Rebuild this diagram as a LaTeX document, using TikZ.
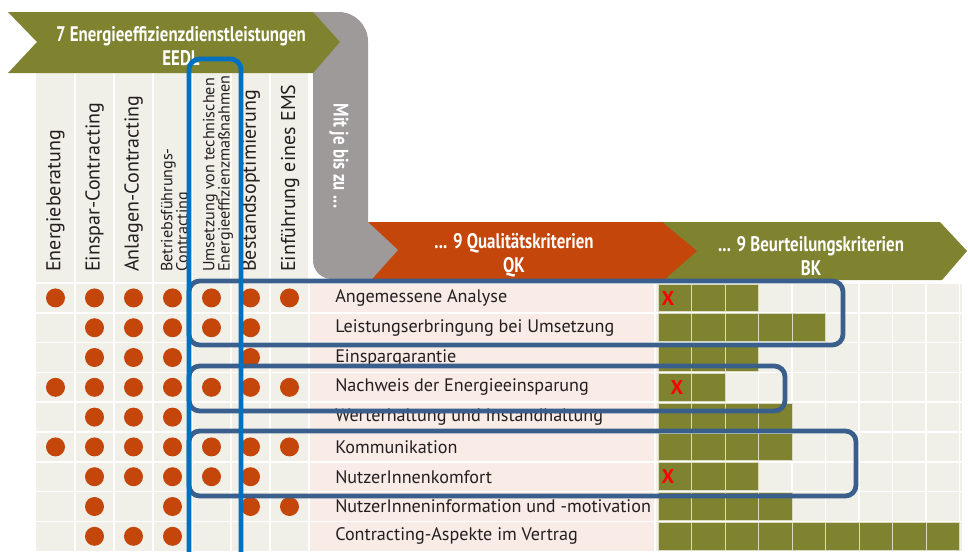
\documentclass[tikz,border=0pt]{standalone}
\usepackage{fontspec}
\setmainfont{PT Sans}
\newfontfamily\headfont[FakeStretch=0.8]{PT Sans}
\usetikzlibrary{positioning}

\definecolor{olivebar}{RGB}{127,131,48}
\definecolor{rust}{RGB}{196,70,10}
\definecolor{greyband}{RGB}{158,154,154}
\definecolor{colbg}{RGB}{240,240,232}
\definecolor{critbg}{RGB}{249,235,230}
\definecolor{framebright}{RGB}{0,112,192}
\definecolor{framedark}{RGB}{58,95,140}
\definecolor{inktext}{RGB}{35,31,32}

\begin{document}
\begin{tikzpicture}[x=0.75pt,y=-0.75pt,line cap=round,
    colhead/.style={rotate=90,anchor=west,inner sep=0pt,text=inktext,font=\fontsize{15}{15}\selectfont},
    colheadsmall/.style={rotate=90,anchor=west,inner sep=0pt,align=left,text=inktext,font=\fontsize{12.1}{11.6}\selectfont},
    crit/.style={anchor=west,inner sep=0pt,text=inktext,font=\fontsize{13.6}{14}\selectfont},
    bandtext/.style={text=white,align=center,font=\headfont\bfseries\fontsize{15.8}{17.5}\selectfont},
    cell/.style={fill=olivebar,draw=white!70!olivebar,line width=0.6pt},
    hl/.style={draw=framedark,line width=3.6pt,rounded corners=8pt},
    cross/.style={text=red,inner sep=0pt,font=\bfseries\fontsize{15}{15}\selectfont}]
  \clip (0,0) rectangle (968,551);
  \fill[white] (0,0) rectangle (968,551);
  % backgrounds of the table
  \fill[colbg] (36,72) rectangle (309,551);
  \fill[critbg] (309,283) rectangle (655,551);
  \fill[colbg] (655,283) rectangle (962,551);
  % white grid lines
  \foreach \c in {1,...,7}
    \draw[white,line width=1.4pt] ({36+39*\c},72) -- ({36+39*\c},551);
  \foreach \r in {0,...,8}
    \draw[white,line width=1.2pt] (36,{283+29.8*\r}) -- (962,{283+29.8*\r});
  \draw[white,line width=2pt] (655,283) -- (655,551);
  \foreach \k in {1,...,9}
    \draw[white,line width=0.8pt] ({658+33.5*\k},283) -- ({658+33.5*\k},551);
  % bars of the Beurteilungskriterien
  \foreach \r/\n in {1/3,2/5,3/3,4/2,5/4,6/4,7/3,8/4,9/9}
    \foreach \k in {1,...,\n}
      \draw[cell] ({658+33.5*(\k-1)},{283+29.8*(\r-1)+1}) rectangle ++(33.5,27.8);
  % dots of the Energieeffizienzdienstleistungen
  \foreach \pat [count=\r] in {{1,1,1,1,1,1,1},{0,1,1,1,1,1,0},{0,1,1,1,0,1,0},
      {1,1,1,1,1,1,1},{0,1,1,1,0,0,0},{1,1,1,1,1,1,1},{0,1,1,1,1,1,0},
      {0,1,0,1,0,1,1},{0,1,1,1,0,0,0}}
    \foreach \v [count=\c] in \pat {
      \ifnum\v=1 \fill[rust] ({55.5+39*(\c-1)},{283+29.8*(\r-0.5)}) circle (9.5); \fi
    }
  % Qualitaetskriterien
  \foreach \lab [count=\r] in {Angemessene Analyse,Leistungserbringung bei Umsetzung,
      Einspargarantie,Nachweis der Energieeinsparung,Werterhaltung und Instandhaltung,
      Kommunikation,NutzerInnenkomfort,NutzerInneninformation und -motivation,
      Contracting-Aspekte im Vertrag}
    \node[crit] (qk\r) at (335,{283+29.8*(\r-0.5)}) {\lab};
  % column heads
  \foreach \lab [count=\c] in {Energieberatung,Einspar-Contracting,Anlagen-Contracting}
    \node[colhead] (eedl\c) at ({55.5+39*(\c-1)},272) {\lab};
  \node[colheadsmall] (eedl4) at (176,272) {Betriebsführungs-\\Contracting};
  \node[colheadsmall] (eedl5) at (218,272) {Umsetzung von technischen\\Energieeffizienzmaßnahmen};
  \node[colhead] (eedl6) at (251,272) {Bestandsoptimierung};
  \node[colhead] (eedl7) at (290,272) {Einführung eines EMS};
  % band BK
  \fill[olivebar] (655,222) -- (940,222) -- (967,251) -- (942,280) -- (655,280) -- cycle;
  % band QK
  \fill[rust] (360,222) -- (662,222) -- (697,251) -- (665,279) -- (360,279) -- cycle;
  % grey bend
  \fill[greyband] (313,72) -- (313,12) [rounded corners=22pt] -- (368,12)
    [sharp corners] -- (368,222) -- (398,250) -- (372,279) [rounded corners=14pt]
    -- (313,279) [sharp corners] -- cycle;
  % band EEDL
  \fill[olivebar] (8,12) -- (313,12) -- (340,42) -- (313,73) -- (8,73) -- (37,42) -- cycle;
  \node[bandtext] (eedl) at (181,46) {7 Energieeffizienzdienstleistungen\\EEDL};
  \node[bandtext] (qk) at (514,255) {... 9 Qualitätskriterien\\QK};
  \node[bandtext] (bk) at (811,256) {... 9 Beurteilungskriterien\\BK};
  \node[bandtext,rotate=-90] (mitje) at (339,156) {Mit je bis zu ...};
  % frames
  \draw[hl] (189,281) rectangle (843,345);
  \draw[hl] (189,366) rectangle (785,411);
  \draw[hl] (189,431) rectangle (856,496);
  \draw[hl,draw=framebright] (189,59) rectangle (241,570);
  % red crosses
  \node[cross] (x1) at (668,298) {X};
  \node[cross] (x2) at (677,387) {X};
  \node[cross] (x3) at (668,476) {X};
\end{tikzpicture}
\end{document}
